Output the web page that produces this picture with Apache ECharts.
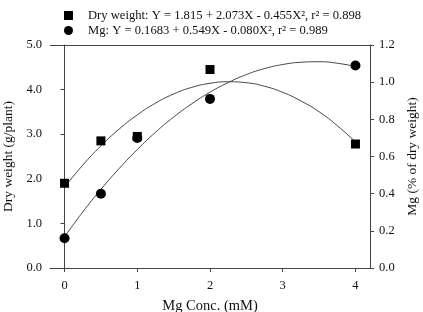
<!DOCTYPE html>
<html><head><meta charset="utf-8">
<script src="https://cdn.jsdelivr.net/npm/echarts@6/dist/echarts.min.js"></script>
<style>html,body{margin:0;padding:0;background:#fff}#c{width:423px;height:312px}</style>
</head><body><div id="c"></div>
<script>
var dwX = [0, 0.5, 1, 2, 4];
var dwY = [1.9, 2.85, 2.95, 4.45, 2.78];
var mgX = [0, 0.5, 1, 2, 4];
var mgY = [0.16, 0.40, 0.70, 0.91, 1.09];
var curveX = [0, 0.25, 0.5, 0.75, 1, 1.25, 1.5, 1.75, 2, 2.25, 2.5, 2.75, 3, 3.25, 3.5, 3.75, 4];
var dwCurve = [1.815, 2.305, 2.738, 3.114, 3.433, 3.695, 3.901, 4.050, 4.141, 4.176, 4.154, 4.075, 3.939, 3.746, 3.503, 3.191, 2.827];
var mgCurve = [0.168, 0.301, 0.423, 0.535, 0.637, 0.730, 0.812, 0.884, 0.946, 0.998, 1.041, 1.073, 1.095, 1.107, 1.110, 1.102, 1.084];
var xTicks = [0, 1, 2, 3, 4];
var dwName = 'Dry weight: Y = 1.815 + 2.073X - 0.455X², r² = 0.898';
var mgName = 'Mg: Y = 0.1683 + 0.549X - 0.080X², r² = 0.989';

function pairs(xs, ys) { return xs.map(function (x, i) { return [x, ys[i]]; }); }

var font = 'Liberation Serif';
var ink = '#111';
var axisCol = '#444';
var chart = echarts.init(document.getElementById('c'));
chart.setOption({
  animation: false,
  textStyle: { fontFamily: font, color: ink },
  legend: {
    orient: 'vertical', left: 64, top: 9, itemGap: 2, padding: 0,
    itemWidth: 9, itemHeight: 9,
    textStyle: { fontFamily: font, fontSize: 12.6, color: ink, padding: [0, 0, 0, 10] },
    data: [{ name: dwName, icon: 'rect', itemStyle: { color: '#000', opacity: 1 } },
           { name: mgName, icon: 'circle', itemStyle: { color: '#000', opacity: 1 } }]
  },
  grid: { left: 50, right: 53, top: 45, bottom: 44, containLabel: false, outerBoundsMode: 'none' },
  xAxis: {
    type: 'value', min: -0.2, max: 4.2,
    name: 'Mg Conc. (mM)', nameLocation: 'middle', nameGap: 31,
    nameTextStyle: { fontFamily: font, fontSize: 14.5, color: ink },
    axisLine: { lineStyle: { color: axisCol } },
    axisTick: { show: true, length: 4, lineStyle: { color: axisCol }, customValues: xTicks },
    axisLabel: { fontFamily: font, fontSize: 12.5, color: ink, margin: 11, customValues: xTicks },
    splitLine: { show: false }
  },
  yAxis: [{
    type: 'value', min: 0, max: 5, interval: 1, position: 'left',
    name: 'Dry weight (g/plant)', nameLocation: 'middle', nameGap: 30, nameRotate: 90,
    nameTextStyle: { fontFamily: font, fontSize: 13.5, color: ink },
    axisLine: { show: true, lineStyle: { color: axisCol } },
    axisTick: { show: true, length: 4, lineStyle: { color: axisCol } },
    axisLabel: { fontFamily: font, fontSize: 12.5, color: ink, margin: 8, formatter: function (v) { return v.toFixed(1); } },
    splitLine: { show: false }
  }, {
    type: 'value', min: 0, max: 1.2, interval: 0.2, position: 'right',
    name: 'Mg (% of dry weight)', nameLocation: 'middle', nameGap: 31, nameRotate: 90,
    nameTextStyle: { fontFamily: font, fontSize: 13.5, color: ink },
    axisLine: { show: true, lineStyle: { color: axisCol } },
    axisTick: { show: true, length: 4, lineStyle: { color: axisCol } },
    axisLabel: { fontFamily: font, fontSize: 12.5, color: ink, margin: 9, formatter: function (v) { return v.toFixed(1); } },
    splitLine: { show: false }
  }],
  graphic: [{
    type: 'line', shape: { x1: 50, y1: 45.5, x2: 370, y2: 45.5 },
    style: { stroke: axisCol, lineWidth: 1 }
  }],
  series: [{
    name: dwName + ' fit', type: 'line', yAxisIndex: 0, smooth: true, showSymbol: false,
    data: pairs(curveX, dwCurve), lineStyle: { color: '#444', width: 1 }, z: 2
  }, {
    name: mgName + ' fit', type: 'line', yAxisIndex: 1, smooth: true, showSymbol: false,
    data: pairs(curveX, mgCurve), lineStyle: { color: '#444', width: 1 }, z: 2
  }, {
    name: dwName, type: 'scatter', yAxisIndex: 0, symbol: 'rect', symbolSize: 9,
    data: pairs(dwX, dwY), itemStyle: { color: '#000', opacity: 1 }, z: 3
  }, {
    name: mgName, type: 'scatter', yAxisIndex: 1, symbol: 'circle', symbolSize: 10,
    data: pairs(mgX, mgY), itemStyle: { color: '#000', opacity: 1 }, z: 3
  }]
});
</script></body></html>
